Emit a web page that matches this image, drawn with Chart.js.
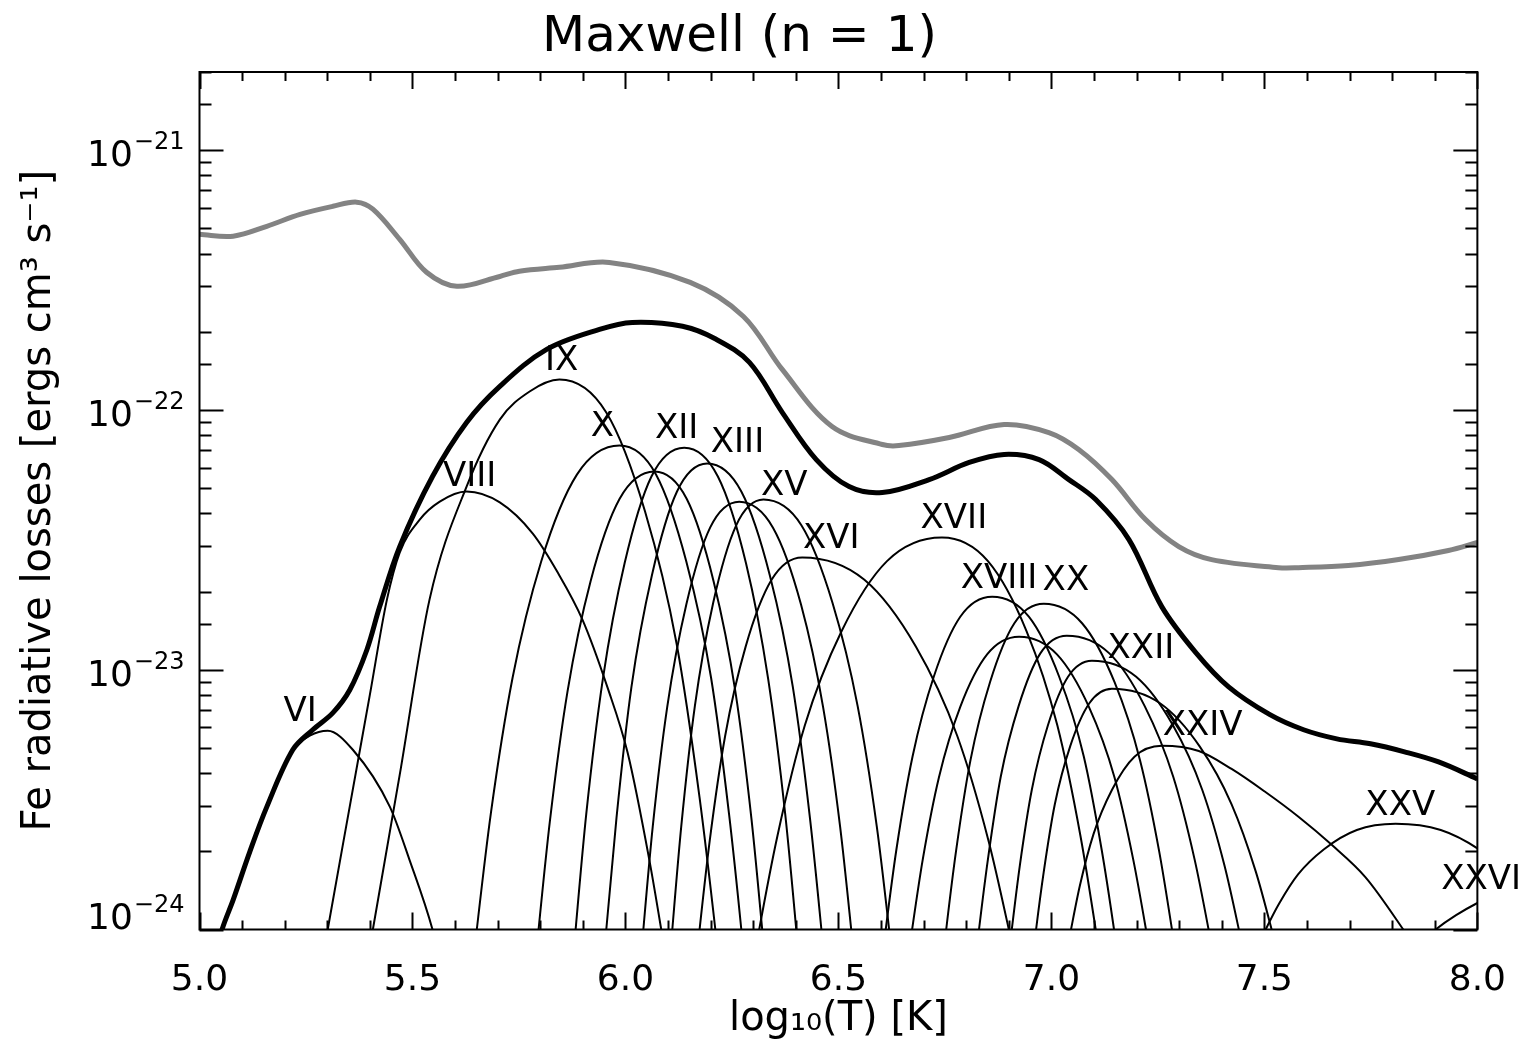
<!DOCTYPE html>
<html>
<head>
<meta charset="utf-8">
<title>Maxwell (n = 1)</title>
<script src="https://cdn.jsdelivr.net/npm/chart.js@4.4.1/dist/chart.umd.min.js"></script>
<style>
  html, body { margin: 0; padding: 0; background: #fff; }
  #fe_chart { display: block; }
</style>
</head>
<body>
<canvas id="fe_chart" width="1528" height="1050"></canvas>
<script>
// Fe radiative losses per ion, log10(T) vs log10(loss)
const ionNames = ['VI','VIII','IX','X','XI','XII','XIII','XIV','XV','XVI','XVII','XVIII','XIX','XX','XXI','XXII','XXIII','XXIV','XXV','XXVI'];

const ionT = [
  [5.043,5.053,5.079,5.158,5.219,5.259,5.301,5.360,5.447,5.493,5.547,5.564],
  [5.290,5.301,5.353,5.400,5.440,5.470,5.517,5.564,5.627,5.705,5.782,5.840,5.899,5.958,6.005,6.056,6.084,6.103],
  [5.395,5.407,5.470,5.540,5.627,5.705,5.775,5.845,5.955,6.046,6.120,6.174,6.211,6.255],
  [5.611,5.651,5.684,5.735,5.802,5.886,5.986,6.072,6.143,6.201,6.243,6.272,6.306],
  [5.763,5.796,5.823,5.864,5.918,5.986,6.068,6.144,6.207,6.258,6.296,6.321,6.351],
  [5.852,5.883,5.908,5.947,5.998,6.061,6.138,6.217,6.283,6.335,6.375,6.401,6.433],
  [5.927,5.955,5.979,6.014,6.062,6.121,6.192,6.272,6.339,6.393,6.433,6.460,6.492],
  [6.015,6.042,6.064,6.098,6.143,6.199,6.267,6.346,6.412,6.464,6.504,6.530,6.562],
  [6.084,6.110,6.131,6.163,6.206,6.260,6.324,6.413,6.486,6.545,6.590,6.619,6.654],
  [6.145,6.174,6.198,6.234,6.282,6.343,6.415,6.561,6.682,6.779,6.852,6.900,6.958],
  [6.263,6.314,6.357,6.421,6.507,6.614,6.743,6.851,6.942,7.014,7.068,7.104,7.147],
  [6.581,6.611,6.636,6.674,6.724,6.786,6.861,6.947,7.018,7.076,7.118,7.147,7.181],
  [6.643,6.673,6.698,6.736,6.786,6.849,6.924,7.013,7.088,7.148,7.192,7.222,7.258],
  [6.726,6.753,6.776,6.810,6.856,6.913,6.982,7.072,7.148,7.208,7.253,7.283,7.319],
  [6.805,6.830,6.851,6.881,6.923,6.974,7.036,7.136,7.219,7.286,7.336,7.369,7.409],
  [6.884,6.907,6.926,6.954,6.992,7.039,7.095,7.199,7.285,7.354,7.406,7.440,7.481],
  [6.943,6.964,6.982,7.008,7.044,7.089,7.142,7.255,7.348,7.423,7.480,7.517,7.562],
  [7.020,7.046,7.067,7.099,7.142,7.195,7.259,7.346,7.423,7.500,7.580,7.658,7.737,7.826,7.873],
  [7.466,7.503,7.534,7.579,7.640,7.717,7.808,7.914,8.003,8.074],
  [7.860,7.902,7.950,8.000,8.050]
];

const ionLogLoss = [
  [-24.05,-24.0,-23.886,-23.528,-23.308,-23.254,-23.235,-23.308,-23.528,-23.732,-24.0,-24.118],
  [-24.106,-24.0,-23.524,-23.096,-22.730,-22.549,-22.422,-22.353,-22.314,-22.356,-22.475,-22.623,-22.807,-23.069,-23.319,-23.732,-24.0,-24.195],
  [-24.11,-24.0,-23.405,-22.730,-22.295,-22.037,-21.929,-21.883,-22.010,-22.391,-22.899,-23.492,-24.0,-24.677],
  [-24.596,-24.0,-23.553,-23.031,-22.584,-22.249,-22.137,-22.249,-22.584,-23.031,-23.553,-24.0,-24.596],
  [-24.564,-24.0,-23.577,-23.083,-22.660,-22.343,-22.237,-22.343,-22.660,-23.083,-23.577,-24.0,-24.564],
  [-24.594,-24.0,-23.555,-23.035,-22.590,-22.256,-22.145,-22.256,-22.590,-23.035,-23.555,-24.0,-24.594],
  [-24.574,-24.0,-23.569,-23.067,-22.637,-22.314,-22.206,-22.314,-22.637,-23.067,-23.569,-24.0,-24.574],
  [-24.527,-24.0,-23.605,-23.144,-22.748,-22.452,-22.353,-22.452,-22.748,-23.144,-23.605,-24.0,-24.527],
  [-24.530,-24.0,-23.603,-23.139,-22.742,-22.444,-22.345,-22.444,-22.742,-23.139,-23.603,-24.0,-24.530],
  [-24.458,-24.0,-23.656,-23.255,-22.912,-22.654,-22.568,-22.654,-22.912,-23.255,-23.656,-24.0,-24.458],
  [-24.483,-24.0,-23.638,-23.215,-22.853,-22.582,-22.491,-22.582,-22.853,-23.215,-23.638,-24.0,-24.483],
  [-24.410,-24.0,-23.693,-23.334,-23.026,-22.796,-22.719,-22.796,-23.026,-23.334,-23.693,-24.0,-24.410],
  [-24.361,-24.0,-23.730,-23.414,-23.143,-22.941,-22.873,-22.941,-23.143,-23.414,-23.730,-24.0,-24.361],
  [-24.401,-24.0,-23.699,-23.348,-23.047,-22.821,-22.746,-22.821,-23.047,-23.348,-23.699,-24.0,-24.401],
  [-24.362,-24.0,-23.729,-23.412,-23.140,-22.937,-22.869,-22.937,-23.140,-23.412,-23.729,-24.0,-24.362],
  [-24.331,-24.0,-23.752,-23.462,-23.213,-23.027,-22.965,-23.027,-23.213,-23.462,-23.752,-24.0,-24.331],
  [-24.297,-24.0,-23.778,-23.518,-23.295,-23.129,-23.073,-23.129,-23.295,-23.518,-23.778,-24.0,-24.297],
  [-24.226,-24.0,-23.830,-23.632,-23.463,-23.335,-23.293,-23.313,-23.382,-23.468,-23.566,-23.674,-23.798,-24.0,-24.118],
  [-24.130,-24.0,-23.902,-23.788,-23.691,-23.617,-23.593,-23.617,-23.691,-23.788],
  [-24.060,-24.0,-23.945,-23.898,-23.860]
];

// total Fe losses (thick black)
const totalT = [5.036,5.053,5.079,5.118,5.158,5.219,5.266,5.313,5.353,5.393,5.423,5.470,5.547,5.627,5.705,5.815,5.939,6.016,6.134,6.213,6.291,6.368,6.448,6.525,6.603,6.713,6.807,6.889,6.971,7.041,7.104,7.182,7.259,7.339,7.416,7.513,7.592,7.670,7.749,7.829,7.909,8.0];
const totalLogLoss = [-24.118,-24.0,-23.886,-23.701,-23.528,-23.308,-23.231,-23.166,-23.077,-22.923,-22.757,-22.526,-22.256,-22.048,-21.909,-21.767,-21.690,-21.663,-21.678,-21.728,-21.817,-22.009,-22.191,-22.295,-22.318,-22.268,-22.202,-22.171,-22.191,-22.268,-22.345,-22.499,-22.757,-22.934,-23.066,-23.173,-23.231,-23.266,-23.285,-23.316,-23.355,-23.420];

// grey curve
const allT = [5.0,5.079,5.158,5.236,5.313,5.369,5.407,5.470,5.533,5.604,5.705,5.751,5.845,5.962,6.152,6.277,6.368,6.485,6.603,6.642,6.760,6.889,6.994,7.064,7.142,7.221,7.299,7.376,7.533,7.580,7.697,7.815,7.932,8.0];
const allLogLoss = [-21.324,-21.331,-21.293,-21.247,-21.216,-21.200,-21.227,-21.343,-21.470,-21.524,-21.486,-21.466,-21.451,-21.432,-21.509,-21.640,-21.844,-22.064,-22.133,-22.137,-22.106,-22.056,-22.087,-22.152,-22.268,-22.422,-22.526,-22.576,-22.607,-22.607,-22.599,-22.576,-22.541,-22.510];

// ion name annotations (data coords)
const labelNames = ['VI','VIII','IX','X','XII','XIII','XV','XVI','XVII','XVIII','XX','XXII','XXIV','XXV','XXVI'];
const labelT = [5.236,5.634,5.850,5.946,6.120,6.263,6.373,6.483,6.771,6.877,7.034,7.210,7.355,7.819,8.009];
const labelLog = [-23.162,-22.260,-21.813,-22.067,-22.075,-22.129,-22.295,-22.499,-22.422,-22.653,-22.661,-22.919,-23.216,-23.524,-23.809];

const FONT = '"DejaVu Sans", sans-serif';
Chart.defaults.font.family = FONT;
Chart.defaults.color = '#000';

function toPoints(t, l) {
  let pts = new Array();
  for (let i = 0; i < t.length; i++) {
    pts.push({x: t[i], y: Math.pow(10, l[i])});
  }
  return pts;
}

function isDecade(v) {
  let e = Math.log10(v);
  return Math.abs(e - Math.round(e)) < 1e-6;
}

// IDL style frame: inward ticks on all four sides, 10^n labels, ion labels
const frameTicks = {
  id: 'frameTicks',
  afterDatasetsDraw(chart) {
    const ctx = chart.ctx;
    const a = chart.chartArea;
    const x = chart.scales.x, y = chart.scales.y;
    ctx.save();
    ctx.strokeStyle = '#000';
    ctx.lineWidth = 2;
    ctx.strokeRect(a.left, a.top, a.right - a.left, a.bottom - a.top);
    ctx.beginPath();
    let xt = x.ticks.map(t => t.value);
    for (let i = 0; i < xt.length; i++) {
      let steps = i < xt.length - 1 ? 5 : 1;
      for (let k = 0; k < steps; k++) {
        let v = k === 0 ? xt[i] : xt[i] + k * (xt[i + 1] - xt[i]) / 5;
        let px = Math.round(x.getPixelForValue(v)) + 0.5;
        let len = k === 0 ? 17 : 9;
        ctx.moveTo(px, a.bottom); ctx.lineTo(px, a.bottom - len);
        ctx.moveTo(px, a.top); ctx.lineTo(px, a.top + len);
      }
    }
    y.ticks.forEach(t => {
      let py = Math.round(y.getPixelForValue(t.value)) + 0.5;
      let len = isDecade(t.value) ? 24 : 12;
      ctx.moveTo(a.left, py); ctx.lineTo(a.left + len, py);
      ctx.moveTo(a.right, py); ctx.lineTo(a.right - len, py);
    });
    ctx.stroke();

    // decade labels with a raised exponent
    ctx.fillStyle = '#000';
    ctx.textAlign = 'right';
    ctx.textBaseline = 'alphabetic';
    y.ticks.forEach(t => {
      if (!isDecade(t.value)) return;
      let py = y.getPixelForValue(t.value);
      let base = Math.min(py + 16, a.bottom - 1);
      let expText = '\u2212' + String(-Math.round(Math.log10(t.value)));
      let right = a.left - 15;
      ctx.font = '24px ' + FONT;
      let w = ctx.measureText(expText).width;
      ctx.fillText(expText, right, base - 17);
      ctx.font = '36px ' + FONT;
      ctx.fillText('10', right - w - 1, base);
    });

    ctx.font = '34px ' + FONT;
    ctx.textAlign = 'center';
    ctx.textBaseline = 'middle';
    for (let i = 0; i < labelNames.length; i++) {
      ctx.fillText(labelNames[i], x.getPixelForValue(labelT[i]), y.getPixelForValue(Math.pow(10, labelLog[i])));
    }
    ctx.restore();
  }
};

let datasets = new Array();
datasets.push({label: 'Fe total', data: toPoints(totalT, totalLogLoss), borderColor: '#000', borderWidth: 5,
  cubicInterpolationMode: 'default', tension: 0.35});
datasets.push({label: 'all', data: toPoints(allT, allLogLoss), borderColor: '#838383', borderWidth: 5,
  cubicInterpolationMode: 'default', tension: 0.35});
for (let i = 0; i < ionNames.length; i++) {
  datasets.push({label: 'Fe ' + ionNames[i], data: toPoints(ionT[i], ionLogLoss[i]), borderColor: '#000', borderWidth: 2});
}

let feChart = new Chart(document.getElementById('fe_chart'), {
  type: 'line',
  data: { datasets: datasets },
  plugins: [frameTicks],
  options: {
    responsive: false,
    devicePixelRatio: 1,
    animation: false,
    layout: { padding: { left: 0, right: 49, top: 0, bottom: 0 } },
    elements: {
      point: { radius: 0 },
      line: { cubicInterpolationMode: 'monotone', fill: false }
    },
    plugins: {
      legend: { display: false },
      tooltip: { enabled: false },
      title: {
        display: true,
        text: 'Maxwell (n = 1)',
        color: '#000',
        font: { size: 50, weight: 'normal' },
        padding: { top: 8, bottom: 4 }
      }
    },
    scales: {
      x: {
        type: 'linear',
        min: 5,
        max: 8,
        grid: { display: false },
        border: { display: false },
        ticks: {
          stepSize: 0.5,
          autoSkip: false,
          maxRotation: 0,
          padding: 22,
          font: { size: 36 },
          callback: v => Number(v).toFixed(1)
        },
        title: {
          display: true,
          text: 'log₁₀(T) [K]',
          font: { size: 40 },
          padding: { top: 0, bottom: 6 }
        },
        afterFit: s => { s.height = 120.5; }
      },
      y: {
        type: 'logarithmic',
        min: 1e-24,
        max: 2e-21,
        grid: { display: false },
        border: { display: false },
        ticks: { display: false, autoSkip: false },
        title: {
          display: true,
          text: 'Fe radiative losses [ergs cm³ s⁻¹]',
          font: { size: 40 },
          padding: { top: 16, bottom: 0 }
        },
        afterFit: s => { s.width = 199.5; }
      }
    }
  }
});
</script>
</body>
</html>
